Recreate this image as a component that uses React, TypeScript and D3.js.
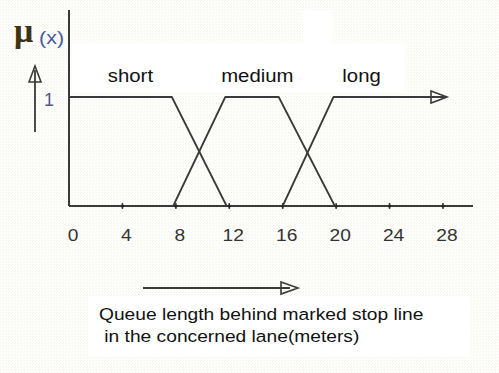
import React from "react";
import * as d3 from "d3";

// Membership functions for queue length (meters) -> degree of membership
const shortMF: [number, number][] = [[0, 1], [7.7, 1], [11.8, 0]];
const mediumMF: [number, number][] = [[7.8, 0], [11.7, 1], [15.7, 1], [19.9, 0]];
const longMF: [number, number][] = [[16, 0], [19.8, 1], [28.3, 1]];

const setNames = ["short", "medium", "long"];
const setLabelAt = [4.6, 14.1, 21.9];
const xTicks = [0, 4, 8, 12, 16, 20, 24, 28];
const captionLines = ["Queue length behind marked stop line", " in the concerned lane(meters)"];

const W = 499;
const H = 373;
const STRETCH = 1.13;
const INK = "#3a3a3a";

export default function App() {
  const x = d3.scaleLinear().domain([0, 28]).range([69, 443]);
  const y = d3.scaleLinear().domain([0, 1]).range([206, 97]);
  const line = d3
    .line<[number, number]>()
    .x((d) => x(d[0]))
    .y((d) => y(d[1]));

  const x0 = x(0);
  const y0 = y(0);
  const longEnd = longMF[longMF.length - 1];
  const tipX = x(longEnd[0]);
  const tipY = y(longEnd[1]);

  const stretched = (
    tx: number,
    ty: number,
    text: string,
    props: React.SVGProps<SVGTextElement>
  ) => (
    <text transform={`translate(${tx},${ty}) scale(${STRETCH},1)`} {...props}>
      {text}
    </text>
  );

  return (
    <svg
      width={W}
      height={H}
      style={{ position: "absolute", left: 0, top: 0 }}
      fontFamily="'Liberation Sans', Arial, sans-serif"
    >
      <defs>
        <pattern id="grain" width="3" height="3" patternUnits="userSpaceOnUse">
          <rect width="3" height="3" fill="#fefefc" />
          <rect x="0" y="0" width="1" height="1" fill="#f5f3e8" />
          <rect x="2" y="1" width="1" height="1" fill="#f8f6ee" />
        </pattern>
      </defs>
      <rect width={W} height={H} fill="url(#grain)" />
      {/* white backdrops behind the text blocks */}
      <rect x={72} y={43} width={333} height={50} fill="#fff" />
      <rect x={303} y={10} width={30} height={34} fill="#fff" />
      <rect x={88} y={296} width={382} height={60} fill="#fff" />

      {/* y axis */}
      <line x1={x0} y1={10} x2={x0} y2={y0} stroke={INK} strokeWidth={2} />
      {/* x axis */}
      <line x1={x0} y1={y0} x2={473} y2={y0} stroke={INK} strokeWidth={2} />
      {xTicks.slice(1).map((t) => (
        <g key={t}>
          <line x1={x(t)} y1={y0 - 3} x2={x(t)} y2={y0 + 3} stroke={INK} strokeWidth={1.5} />
          <circle cx={x(t)} cy={y0} r={1.6} fill="#222" />
        </g>
      ))}
      {xTicks.map((t) =>
        stretched(x(t) + 4, 241, String(t), {
          key: "l" + t,
          fontSize: 17,
          fill: "#333",
          textAnchor: "middle",
        })
      )}

      {/* membership functions */}
      {[shortMF, mediumMF, longMF].map((mf, i) => (
        <path key={i} d={line(mf) ?? ""} fill="none" stroke={INK} strokeWidth={1.8} strokeLinejoin="round" />
      ))}
      {/* open arrowhead at the end of "long" */}
      <path
        d={`M${tipX - 16},${tipY - 6} L${tipX},${tipY} L${tipX - 16},${tipY + 6} Z`}
        fill="none"
        stroke={INK}
        strokeWidth={1.6}
      />

      {setNames.map((n, i) =>
        stretched(x(setLabelAt[i]), 82, n, {
          key: n,
          fontSize: 18,
          fill: "#111",
          textAnchor: "middle",
        })
      )}

      {/* membership axis title and arrow */}
      <text x={14} y={42} fontFamily="'Liberation Serif', serif" fontWeight="bold" fontSize={34} fill="#3d3312">
        μ
      </text>
      {stretched(39, 44, "(x)", { fontSize: 19, fill: "#4b5a9a" })}
      <line x1={35} y1={132} x2={35} y2={70} stroke={INK} strokeWidth={1.8} />
      <path d="M35,66 L29,82 L41,82 Z" fill="none" stroke={INK} strokeWidth={1.6} />
      <text x={44} y={y(1) + 9} fontSize={18} fill="#4d5a8c">
        1
      </text>

      {/* direction arrow for the x axis */}
      <line x1={143} y1={288} x2={290} y2={288} stroke={INK} strokeWidth={1.8} />
      <path d="M281,282 L298,288 L281,294 Z" fill="none" stroke={INK} strokeWidth={1.6} />

      {captionLines.map((c, i) =>
        stretched(99, 320 + i * 22, c, {
          key: "c" + i,
          fontSize: 17,
          fill: "#111",
          style: { whiteSpace: "pre" },
        })
      )}
    </svg>
  );
}
